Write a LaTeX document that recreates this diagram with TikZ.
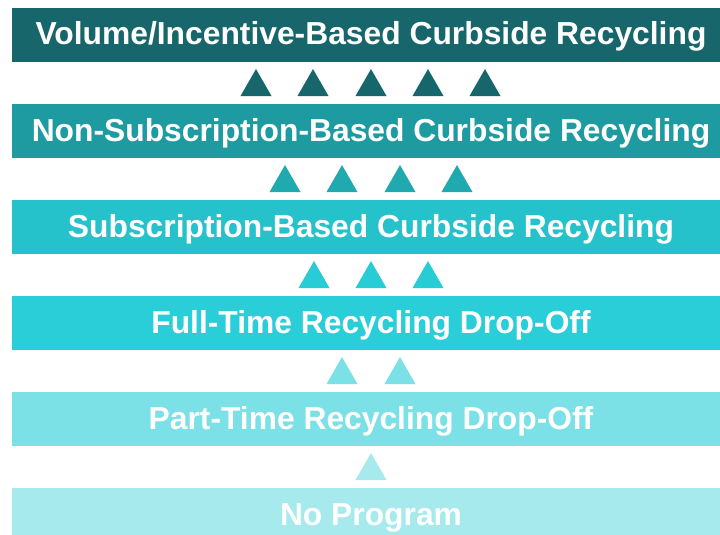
\documentclass[tikz,border=0pt]{standalone}
\usepackage{fontspec}
\setmainfont{Liberation Sans}
\usepackage{tikz}
\definecolor{lvA}{HTML}{16666B}
\definecolor{lvB}{HTML}{1E9BA0}
\definecolor{lvC}{HTML}{25C2CB}
\definecolor{lvD}{HTML}{29CED8}
\definecolor{lvE}{HTML}{7BE1E6}
\definecolor{lvF}{HTML}{A7EAEE}
\definecolor{triB}{HTML}{20AAB0}
\definecolor{triC}{HTML}{28CCD5}
\tikzset{lbl/.style={text=white, font=\fontsize{31.8}{34}\selectfont\bfseries, inner sep=0pt, anchor=base}}

\begin{document}
\begin{tikzpicture}[x=1pt, y=-1pt]
\useasboundingbox (0,0) rectangle (720,535);
\clip (0,0) rectangle (720,535);
% bars
\fill[lvA] (12,8) rectangle (720,62);
\fill[lvB] (12,104) rectangle (720,158);
\fill[lvC] (12,200) rectangle (720,254);
\fill[lvD] (12,296) rectangle (720,350);
\fill[lvE] (12,392) rectangle (720,446);
\fill[lvF] (12,488) rectangle (720,542);
\node[lbl] (vol) at (371,45) {Volume/Incentive-Based Curbside Recycling};
\node[lbl] (nonsub) at (371,141) {Non-Subscription-Based Curbside Recycling};
\node[lbl] (sub) at (371,237) {Subscription-Based Curbside Recycling};
\node[lbl] (full) at (371,333) {Full-Time Recycling Drop-Off};
\node[lbl] (part) at (371,429) {Part-Time Recycling Drop-Off};
\node[lbl] (none) at (371,525) {No Program};
% triangles
\foreach \x in {256,313,371,428,485}
  \fill[lvA] (\x-15.5,96) -- (\x,69) -- (\x+15.5,96) -- cycle;
\foreach \x in {285,342,400,457}
  \fill[triB] (\x-15.5,192) -- (\x,165) -- (\x+15.5,192) -- cycle;
\foreach \x in {314,371,428}
  \fill[triC] (\x-15.5,288) -- (\x,261) -- (\x+15.5,288) -- cycle;
\foreach \x in {342,400}
  \fill[lvE] (\x-15.5,384) -- (\x,357) -- (\x+15.5,384) -- cycle;
\fill[lvF] (355.5,480) -- (371,453) -- (386.5,480) -- cycle;
\end{tikzpicture}
\end{document}
